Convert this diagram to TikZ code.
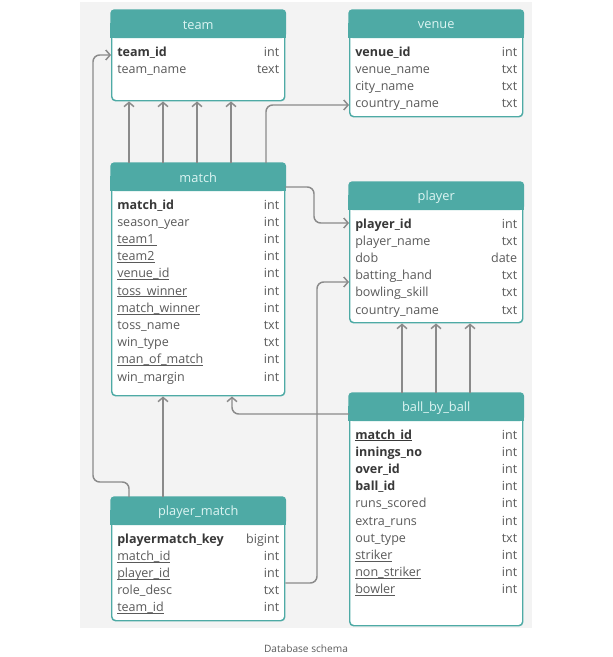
\documentclass[tikz,border=0pt]{standalone}
\usepackage{fontspec}
\setmainfont{Open Sans}
\usetikzlibrary{arrows.meta}
\definecolor{tealc}{HTML}{4EAAA5}
\definecolor{hdrtxt}{HTML}{DDF5F3}
\definecolor{bgc}{HTML}{F3F3F3}
\definecolor{linec}{HTML}{8A8A8A}
\definecolor{txtc}{HTML}{5A5A5A}
\definecolor{boldc}{HTML}{383838}
\newcommand\fk[1]{{\setbox0\hbox{#1}\rlap{\rule[-1.5pt]{\wd0}{0.5pt}}\box0}}
\newcommand\pk[1]{{\color{boldc}\bfseries #1}}
\tikzset{
  tbl/.style={draw=tealc, line width=1.1pt, fill=white, rounded corners=3pt, inner sep=0pt, anchor=north west},
  hdrtext/.style={text=hdrtxt, font=\fontsize{9.6}{11}\selectfont, inner sep=0pt},
  fieldl/.style={text=txtc, font=\fontsize{9.4}{11}\selectfont, inner sep=0pt, anchor=west, text height=7pt, text depth=2pt},
  fieldr/.style={text=txtc, font=\fontsize{9.4}{11}\selectfont, inner sep=0pt, anchor=east, text height=7pt, text depth=2pt},
  conn/.style={draw=linec, line width=1.1pt, rounded corners=5pt, -{Straight Barb[length=3.2pt,width=7.5pt]}},
  captext/.style={text=txtc, font=\fontsize{7.6}{9}\selectfont, inner sep=0pt}
}
% #1 name, #2 x1, #3 y1, #4 height (px), #5 title, #6 rows
\newcommand\dbtable[6]{%
  \node[tbl, minimum width=129.75pt, minimum height={#4*0.75pt}] (#1) at (#2,#3) {};
  \fill[tealc, rounded corners=3pt] ([xshift=-0.55pt,yshift=0.55pt]#1.north west) rectangle ([xshift=0.55pt,yshift=-21pt]#1.north east);
  \fill[tealc] ([xshift=-0.55pt,yshift=-10pt]#1.north west) rectangle ([xshift=0.55pt,yshift=-21pt]#1.north east);
  \node[hdrtext] (#1-title) at ([yshift=-11.3pt]#1.north) {#5};
  \foreach \k/\t [count=\i] in {#6} {
    \node[fieldl] (#1-k\i) at ([xshift=4.5pt, yshift={-(42.8+(\i-1)*17.2)*0.75pt}]#1.north west) {\k};
    \node[fieldr] (#1-t\i) at ([xshift=-4.5pt, yshift={-(42.8+(\i-1)*17.2)*0.75pt}]#1.north east) {\t};
  }
}
\begin{document}
\begin{tikzpicture}[x=0.75pt,y=-0.75pt]
\useasboundingbox (0,0) rectangle (612,657);
\fill[bgc] (80,2) rectangle (532,628);

\dbtable{team}{111}{10}{90}{team}{{\pk{team\_id}}/int, team\_name/text}
\dbtable{venue}{349}{10}{106}{venue}{{\pk{venue\_id}}/int, venue\_name/txt, city\_name/txt, country\_name/txt}
\dbtable{match}{111}{163}{232}{match}{{\pk{match\_id}}/int, season\_year/int, {\fk{team1\,}}/int, {\fk{team2}}/int, {\fk{venue\_id}}/int, {\fk{toss\_winner}}/int, {\fk{match\_winner}}/int, toss\_name/txt, win\_type/txt, {\fk{man\_of\_match}}/int, win\_margin/int}
\dbtable{player}{349}{182}{140}{player}{{\pk{player\_id}}/int, player\_name/txt, dob/date, batting\_hand/txt, bowling\_skill/txt, country\_name/txt}
\dbtable{ball}{349}{393}{232}{ball\_by\_ball}{{\pk{\fk{match\_id}}}/int, {\pk{innings\_no}}/int, {\pk{over\_id}}/int, {\pk{ball\_id}}/int, runs\_scored/int, extra\_runs/int, out\_type/txt, {\fk{striker}}/int, {\fk{non\_striker}}/int, {\fk{bowler}}/int}
\dbtable{pm}{111}{497}{123}{player\_match}{{\pk{playermatch\_key}}/bigint, {\fk{match\_id}}/int, {\fk{player\_id}}/int, role\_desc/txt, {\fk{team\_id}}/int}

% match -> team
\draw[conn] (match.north -| 129,0) -- (team.south -| 129,0);
\draw[conn] (match.north -| 163,0) -- (team.south -| 163,0);
\draw[conn] (match.north -| 197,0) -- (team.south -| 197,0);
\draw[conn] (match.north -| 231,0) -- (team.south -| 231,0);
% match -> venue
\draw[conn] (match.north -| 266,0) -- (266,105) -- (venue.west |- 0,105);
% match -> player
\draw[conn] (match.east |- 0,187) -- (314,187) -- (314,223) -- (player.west |- 0,223);
% player_match -> player
\draw[conn] (pm.east |- 0,583) -- (317,583) -- (317,282) -- (player.west |- 0,282);
% ball -> match
\draw[conn] (ball.west |- 0,414) -- (232,414) -- (match.south -| 232,0);
% ball -> player
\draw[conn] (ball.north -| 402,0) -- (player.south -| 402,0);
\draw[conn] (ball.north -| 436,0) -- (player.south -| 436,0);
\draw[conn] (ball.north -| 470,0) -- (player.south -| 470,0);
% player_match -> match
\draw[conn] (pm.north -| 163,0) -- (match.south -| 163,0);
% player_match -> team
\draw[conn] (pm.north -| 129,0) -- (129,482) -- (93,482) -- (93,55) -- (team.west |- 0,55);

\node[captext] (cap) at (306,649) {Database schema};
\end{tikzpicture}
\end{document}
